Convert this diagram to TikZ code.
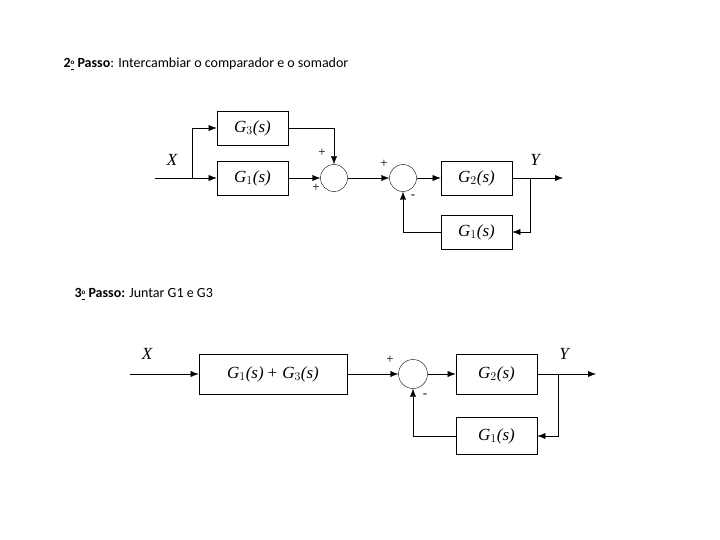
\documentclass[tikz,border=0pt]{standalone}
\usepackage{fontspec}
\setmainfont{Liberation Serif}
\newfontfamily\hdfont{Carlito}
\usetikzlibrary{arrows.meta}
\begin{document}
\begin{tikzpicture}[x=1pt,y=-1pt,
  blk/.style={draw,thick,minimum height=34pt,inner sep=0pt,font=\fontsize{17}{17}\selectfont\itshape},
  sum/.style={draw,circle,minimum size=27pt,inner sep=0pt},
  sig/.style={-{Latex[length=8pt,width=6pt]}},
  lbl/.style={font=\fontsize{17}{17}\selectfont\itshape},
  sgn/.style={font=\fontsize{13}{13}\selectfont},
  hd/.style={anchor=west,font=\hdfont\fontsize{14}{14}\selectfont}]
\useasboundingbox (0,0) rectangle (720,540);
% headings
\node[hd] (h1) at (60,64) {\textbf{2\underline{\raisebox{0.5ex}{\scriptsize o}} Passo}: Intercambiar o comparador e o somador};
\node[hd] (h2) at (71,294) {\textbf{3\underline{\raisebox{0.5ex}{\scriptsize o}} Passo:} Juntar G1 e G3};
% step 2
\coordinate (in1) at (155,178);
\coordinate (br1) at (192,178);
\node[blk,minimum width=71pt] (g3) at (252.5,128) {G$_3$(s)};
\node[blk,minimum width=71pt] (g1a) at (252.5,178) {G$_1$(s)};
\node[sum] (s1) at (334,178) {};
\node[sum] (s2) at (403,178) {};
\node[blk,minimum width=71pt] (g2a) at (476.5,178) {G$_2$(s)};
\node[blk,minimum width=71pt] (g1b) at (476.5,232) {G$_1$(s)};
\coordinate (br2) at (530,178);
\coordinate (out1) at (563,178);
\draw (in1) -- (br1);
\draw[sig] (br1) -- (g1a);
\draw[sig] (br1) |- (g3);
\draw[sig] (g3) -| (s1);
\draw[sig] (g1a) -- (s1);
\draw[sig] (s1) -- (s2);
\draw[sig] (s2) -- (g2a);
\draw[sig] (g2a) -- (out1);
\draw[sig] (br2) |- (g1b);
\draw[sig] (g1b) -| (s2);
\node[lbl] (x1) at (172,160) {X};
\node[lbl] (y1) at (535,160) {Y};
\node[sgn] (p1) at (322,153) {+};
\node[sgn] (p2) at (316,188) {+};
\node[sgn] (p3) at (384,164) {+};
\node[sgn] (m1) at (413,197) {-};
% step 3
\coordinate (in2) at (130,374);
\node[blk,minimum width=148pt,minimum height=40pt] (g13) at (273,374) {G$_1$(s)\,+ G$_3$(s)};
\node[sum,minimum size=29pt] (s3) at (413,374) {};
\node[blk,minimum width=81pt,minimum height=40pt] (g2b) at (496.5,374) {G$_2$(s)};
\node[blk,minimum width=81pt,minimum height=37pt] (g1c) at (496.5,436) {G$_1$(s)};
\coordinate (br3) at (558,374);
\coordinate (out2) at (596,374);
\draw[sig] (in2) -- (g13);
\draw[sig] (g13) -- (s3);
\draw[sig] (s3) -- (g2b);
\draw[sig] (g2b) -- (out2);
\draw[sig] (br3) |- (g1c);
\draw[sig] (g1c) -| (s3);
\node[lbl] (x2) at (147,354) {X};
\node[lbl] (y2) at (564,354) {Y};
\node[sgn] (p4) at (390,360) {+};
\node[sgn] (m2) at (425,396) {-};
\end{tikzpicture}
\end{document}
